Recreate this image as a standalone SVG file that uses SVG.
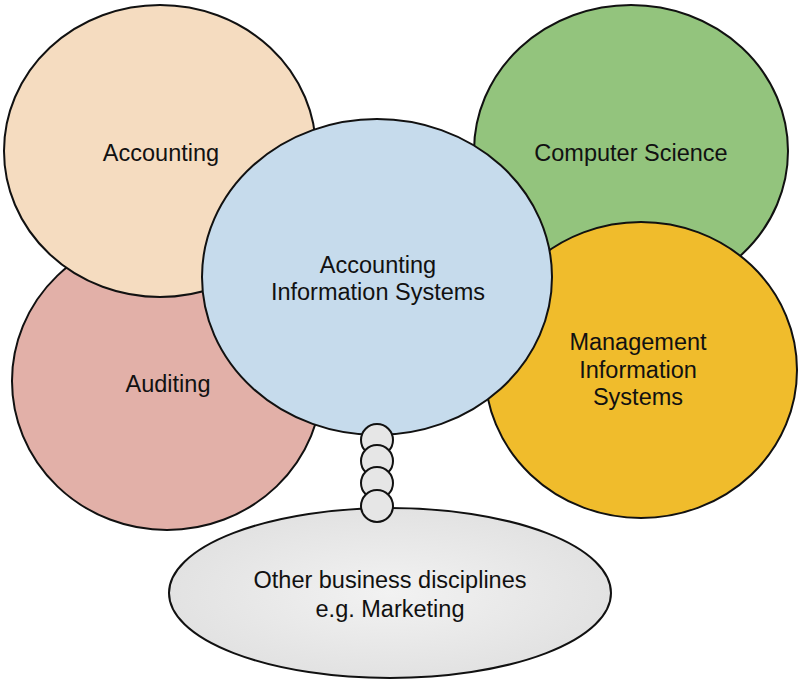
<svg xmlns="http://www.w3.org/2000/svg" width="800" height="682" viewBox="0 0 800 682">
<defs>
<radialGradient id="grayGrad" cx="50%" cy="50%" r="50%">
<stop offset="0%" stop-color="#f2f2f2"/>
<stop offset="100%" stop-color="#e2e2e2"/>
</radialGradient>
</defs>
<style>
.shape{stroke:#111;stroke-width:2}
.lbl{font-family:"Liberation Sans",Arial,sans-serif;font-size:23.5px;fill:#111;text-anchor:middle}
</style>
<rect width="800" height="682" fill="#ffffff"/>
<g id="auditing">
<ellipse class="shape" cx="167" cy="381" rx="155" ry="149" fill="#e2b0a8"/>
<text class="lbl" x="168" y="392">Auditing</text>
</g>
<g id="accounting">
<ellipse class="shape" cx="160" cy="151" rx="156" ry="146" fill="#f5dcc0"/>
<text class="lbl" x="161" y="161">Accounting</text>
</g>
<g id="computer-science">
<ellipse class="shape" cx="631" cy="151" rx="157" ry="146" fill="#93c47d"/>
<text class="lbl" x="631" y="161">Computer Science</text>
</g>
<g id="mis">
<ellipse class="shape" cx="641" cy="370" rx="156" ry="148" fill="#f0bc2c"/>
<text class="lbl" x="638" y="350">Management</text>
<text class="lbl" x="638" y="378">Information</text>
<text class="lbl" x="638" y="405">Systems</text>
</g>
<g id="ais">
<ellipse class="shape" cx="377" cy="277" rx="175" ry="158" fill="#c6dbec"/>
<text class="lbl" x="378" y="273">Accounting</text>
<text class="lbl" x="378" y="300">Information Systems</text>
</g>
<g id="other">
<ellipse class="shape" cx="390" cy="593" rx="221" ry="85" fill="url(#grayGrad)"/>
<text class="lbl" x="390" y="588">Other business disciplines</text>
<text class="lbl" x="390" y="617">e.g. Marketing</text>
</g>
<g id="connectors">
<circle class="shape" cx="377" cy="440" r="16" fill="#e6e6e6"/>
<circle class="shape" cx="377" cy="461" r="16" fill="#e6e6e6"/>
<circle class="shape" cx="377" cy="483" r="16" fill="#e6e6e6"/>
<circle class="shape" cx="377" cy="506" r="16" fill="#e6e6e6"/>
</g>
</svg>
